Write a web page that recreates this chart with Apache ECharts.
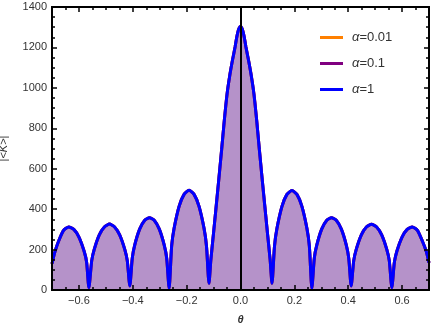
<!DOCTYPE html>
<html>
<head>
<meta charset="utf-8">
<script src="https://cdn.jsdelivr.net/npm/echarts@6/dist/echarts.min.js"></script>
<style>
  html, body { margin: 0; padding: 0; background: #fff; }
  #chart { width: 432px; height: 331px; }
</style>
</head>
<body>
<div id="chart"></div>
<script>
// theta values and |<K>|
const theta = [
  -0.7, -0.69, -0.676, -0.657, -0.638, -0.619, -0.6, -0.581, -0.5715, -0.563,
  -0.5526, -0.5431, -0.5243, -0.5054, -0.4865, -0.4676, -0.4488, -0.4299, -0.4204, -0.411,
  -0.4019, -0.3928, -0.3745, -0.3563, -0.338, -0.3198, -0.3015, -0.2833, -0.2741, -0.265,
  -0.2557, -0.2465, -0.228, -0.2095, -0.191, -0.1725, -0.154, -0.1355, -0.1263, -0.117,
  -0.11, -0.1, -0.09, -0.08, -0.07, -0.06, -0.05, -0.04, -0.03, -0.02, -0.015, -0.01, -0.005,
  0,
  0.005, 0.01, 0.015, 0.02, 0.03, 0.04, 0.05, 0.06, 0.07, 0.08, 0.09, 0.1, 0.11,
  0.117, 0.1263, 0.1355, 0.154, 0.1725, 0.191, 0.2095, 0.228, 0.2465, 0.2557,
  0.265, 0.2741, 0.2833, 0.3015, 0.3198, 0.338, 0.3563, 0.3745, 0.3928, 0.4019,
  0.411, 0.4204, 0.4299, 0.4488, 0.4676, 0.4865, 0.5054, 0.5243, 0.5431, 0.5526,
  0.562, 0.5715, 0.581, 0.6, 0.619, 0.638, 0.657, 0.676, 0.69, 0.7
];
const absK = [
  130, 185, 240, 295, 312, 300, 262, 193, 138, 12,
  144, 201, 273, 312, 326, 312, 273, 201, 144, 20,
  158, 222, 301, 344, 358, 344, 301, 222, 158, 8,
  217, 305, 414, 473, 493, 473, 414, 305, 217, 33,
  150, 283, 418, 555, 695, 840, 968, 1060, 1135, 1203, 1243, 1275, 1295,
  1303,
  1295, 1275, 1243, 1203, 1135, 1060, 968, 840, 695, 555, 418, 283, 150,
  33, 217, 305, 414, 473, 492, 473, 414, 305, 217,
  8, 158, 222, 301, 344, 358, 344, 301, 222, 158,
  20, 144, 201, 273, 312, 325, 312, 273, 201, 144,
  12, 138, 193, 262, 300, 312, 295, 240, 190, 135
];
const alphaNames = ['α=0.01', 'α=0.1', 'α=1'];
const alphaColors = ['#ff8000', '#800080', '#0000ff'];
const majorX = [-0.6, -0.4, -0.2, 0, 0.2, 0.4, 0.6];
const minorX = [-0.7, -0.65, -0.6, -0.55, -0.5, -0.45, -0.4, -0.35, -0.3, -0.25, -0.2, -0.15, -0.1, -0.05,
  0, 0.05, 0.1, 0.15, 0.2, 0.25, 0.3, 0.35, 0.4, 0.45, 0.5, 0.55, 0.6, 0.65, 0.7];

const points = theta.map((t, i) => [t, absK[i]]);
const font = 'Liberation Sans, Arial, sans-serif';

// ticks only get drawn when the axis line is shown, so every x axis keeps its line
function xAxisDef(pos, ticks, len, showLabel) {
  return {
    type: 'value', position: pos, min: -0.7, max: 0.7, zlevel: 1, z: 10,
    axisLine: { show: true, onZero: false, lineStyle: { color: '#000', width: 2 } },
    axisTick: { show: true, inside: true, length: len, customValues: ticks,
      lineStyle: { color: '#000', width: 1.5 } },
    axisLabel: { show: showLabel, customValues: majorX, margin: 5,
      fontFamily: font, fontSize: 11, color: '#333',
      formatter: v => v.toFixed(1).replace('-', '\u2212') },
    splitLine: { show: false }
  };
}

function yAxisDef(pos, showLabel) {
  return {
    type: 'value', position: pos, min: 0, max: 1400, interval: 200, zlevel: 1, z: 10,
    axisLine: { show: true, onZero: false, lineStyle: { color: '#000', width: 2 } },
    axisTick: { show: true, inside: true, length: 5, lineStyle: { color: '#000', width: 1.5 } },
    minorTick: { show: true, splitNumber: 4, length: 3, lineStyle: { color: '#000', width: 1.5 } },
    axisLabel: { show: showLabel, margin: 5, fontFamily: font, fontSize: 11, color: '#333',
      formatter: v => String(v) },
    splitLine: { show: false }
  };
}

const chart = echarts.init(document.getElementById('chart'));
const xMain = xAxisDef('bottom', majorX, 5, true);
xMain.name = 'θ';
xMain.nameLocation = 'middle';
xMain.nameGap = 24;
xMain.nameTextStyle = { fontFamily: font, fontSize: 11, fontStyle: 'italic', fontWeight: 'bold', color: '#333' };
const yMain = yAxisDef('left', true);
yMain.name = '|<{i|K}>|';
yMain.nameLocation = 'middle';
yMain.nameGap = 43;
yMain.nameTextStyle = { fontFamily: font, fontSize: 11, color: '#333',
  rich: { i: { fontStyle: 'italic', fontFamily: font, fontSize: 11, color: '#333' } } };

// vertical line at theta = 0, drawn as a y axis sitting on x = 0
const zeroLine = {
  type: 'value', min: 0, max: 1400, zlevel: 1, z: 10,
  axisLine: { show: true, onZero: true, lineStyle: { color: '#000', width: 2 } },
  axisTick: { show: false }, axisLabel: { show: false }, splitLine: { show: false }
};

chart.setOption({
  animation: false,
  grid: { left: 52, right: 3, top: 7, bottom: 41, containLabel: false, outerBoundsMode: 'none' },
  legend: {
    orient: 'vertical', left: 315, top: 26, itemGap: 13,
    itemWidth: 23, itemHeight: 3, icon: 'rect',
    data: alphaNames,
    formatter: n => n.replace('α', '{i|α}'),
    textStyle: { fontFamily: font, fontSize: 13, color: '#333', padding: [0, 0, 0, 4],
      rich: { i: { fontStyle: 'italic', fontFamily: font, fontSize: 13, color: '#333' } } }
  },
  xAxis: [
    xMain,
    xAxisDef('bottom', minorX, 3, false),
    xAxisDef('top', majorX, 5, false),
    xAxisDef('top', minorX, 3, false)
  ],
  yAxis: [yMain, yAxisDef('right', false), zeroLine],
  series: alphaNames.map((name, i) => ({
    name: name,
    type: 'line',
    data: points,
    showSymbol: false,
    smooth: 0.2,
    color: alphaColors[i],
    lineStyle: { color: alphaColors[i], width: 3 },
    areaStyle: i === 0 ? { color: 'rgb(181,146,201)', opacity: 1 } : undefined,
    z: 2 + i
  }))
});
</script>
</body>
</html>
